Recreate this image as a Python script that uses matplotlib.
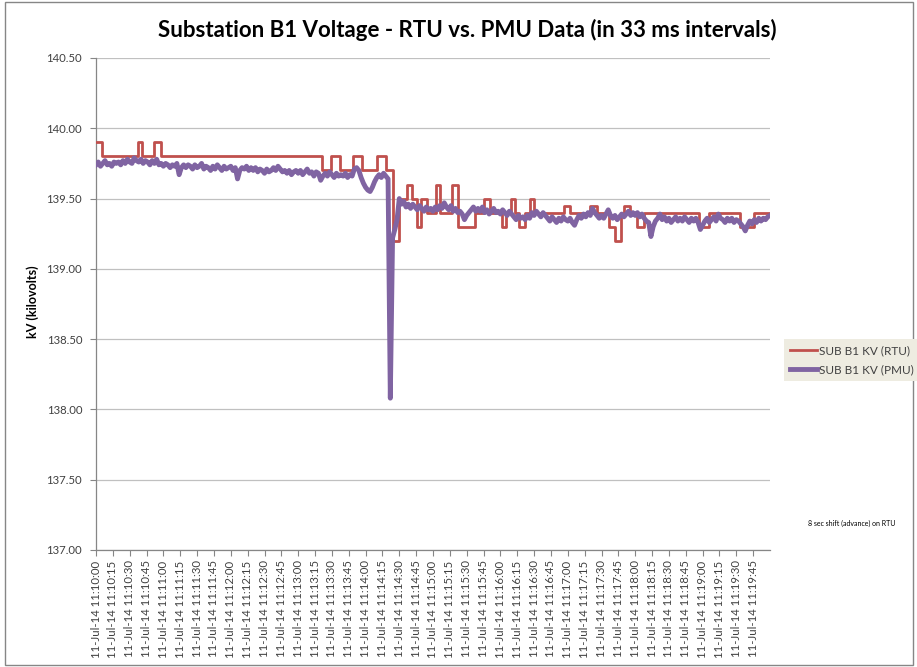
import matplotlib
matplotlib.use('Agg')
import matplotlib.pyplot as plt
from matplotlib.patches import Rectangle
import numpy as np

plt.rcParams['font.family'] = ['Lato', 'DejaVu Sans']

# RTU: step changes, seconds after 11:10:00 -> kV
rtu_times = [0, 5, 37, 41, 52, 58, 201, 209, 217, 229, 237, 250, 258, 264,
             270, 277, 281, 286, 289, 295, 303, 306, 317, 322, 337, 345, 351,
             361, 365, 369, 373, 377, 382, 386, 390, 417, 422, 440, 446, 457,
             462, 467, 470, 475, 482, 488, 537, 546, 573, 586]
rtu_kv = [139.9, 139.8, 139.9, 139.8, 139.9, 139.8, 139.7, 139.8, 139.7, 139.8,
          139.7, 139.8, 139.7, 139.2, 139.5, 139.6, 139.5, 139.3, 139.5, 139.4,
          139.6, 139.4, 139.6, 139.3, 139.4, 139.5, 139.4, 139.3, 139.4, 139.5,
          139.4, 139.3, 139.4, 139.5, 139.4, 139.45, 139.4, 139.45, 139.4, 139.3,
          139.2, 139.4, 139.45, 139.4, 139.3, 139.4, 139.3, 139.4, 139.3, 139.4]

# PMU: every 2 s
pmu_step = 2
pmu_kv = [
    139.74, 139.76, 139.73, 139.75, 139.77, 139.74, 139.75, 139.73, 139.76, 139.75,
    139.76, 139.74, 139.77, 139.75, 139.78, 139.76, 139.75, 139.79, 139.77, 139.76,
    139.78, 139.75, 139.77, 139.76, 139.74, 139.77, 139.75, 139.78, 139.74, 139.75,
    139.73, 139.75, 139.74, 139.72, 139.74, 139.73, 139.75, 139.67, 139.72, 139.74,
    139.72, 139.74, 139.73, 139.71, 139.74, 139.72, 139.73, 139.75, 139.71, 139.73,
    139.72, 139.70, 139.73, 139.71, 139.74, 139.72, 139.70, 139.73, 139.71, 139.72,
    139.73, 139.70, 139.72, 139.64, 139.70, 139.72, 139.71, 139.73, 139.70, 139.72,
    139.70, 139.72, 139.69, 139.71, 139.70, 139.68, 139.71, 139.69, 139.70, 139.72,
    139.70, 139.73, 139.71, 139.69, 139.70, 139.68, 139.70, 139.67, 139.69, 139.70,
    139.68, 139.70, 139.67, 139.69, 139.71, 139.68, 139.69, 139.66, 139.69, 139.68,
    139.63, 139.66, 139.68, 139.66, 139.69, 139.67, 139.65, 139.68, 139.66, 139.67,
    139.66, 139.68, 139.65, 139.67, 139.66, 139.71, 139.72, 139.70, 139.65, 139.61,
    139.58, 139.56, 139.55, 139.58, 139.62, 139.65, 139.67, 139.65, 139.68, 139.66,
    139.64, 138.08, 139.22, 139.28, 139.35, 139.50, 139.46, 139.48, 139.44, 139.46,
    139.43, 139.46, 139.44, 139.42, 139.45, 139.43, 139.41, 139.44, 139.42, 139.43,
    139.41, 139.44, 139.42, 139.45, 139.43, 139.47, 139.44, 139.42, 139.45, 139.41,
    139.43, 139.40, 139.41, 139.39, 139.35, 139.38, 139.40, 139.42, 139.44, 139.41,
    139.43, 139.41, 139.44, 139.40, 139.42, 139.39, 139.41, 139.43, 139.40, 139.41,
    139.39, 139.42, 139.40, 139.38, 139.41, 139.39, 139.37, 139.35, 139.38, 139.36,
    139.37, 139.35, 139.38, 139.36, 139.40, 139.38, 139.41, 139.39, 139.37, 139.40,
    139.38, 139.36, 139.34, 139.37, 139.35, 139.33, 139.36, 139.34, 139.37, 139.35,
    139.34, 139.36, 139.33, 139.31, 139.35, 139.38, 139.36, 139.39, 139.37, 139.40,
    139.38, 139.43, 139.40, 139.38, 139.36, 139.38, 139.36, 139.39, 139.42, 139.38,
    139.36, 139.38, 139.35, 139.37, 139.39, 139.37, 139.39, 139.41, 139.38, 139.40,
    139.38, 139.40, 139.37, 139.39, 139.36, 139.34, 139.33, 139.23, 139.30, 139.34,
    139.36, 139.39, 139.35, 139.37, 139.34, 139.36, 139.33, 139.35, 139.37, 139.34,
    139.36, 139.34, 139.37, 139.35, 139.33, 139.36, 139.34, 139.36, 139.33, 139.28,
    139.31, 139.34, 139.36, 139.33, 139.35, 139.37, 139.34, 139.39, 139.36, 139.35,
    139.33, 139.36, 139.34, 139.36, 139.33, 139.35, 139.34, 139.32, 139.30, 139.27,
    139.31, 139.34, 139.32, 139.35, 139.33, 139.36, 139.34, 139.36, 139.35, 139.37,
    139.38]

tick_seconds = list(range(0, 600, 15))
tick_labels = ['11-Jul-14 11:%02d:%02d' % (10 + s // 60, s % 60) for s in tick_seconds]
y_ticks = [137.0, 137.5, 138.0, 138.5, 139.0, 139.5, 140.0, 140.5]

W, H = 917, 667
fig = plt.figure(figsize=(W / 100, H / 100), dpi=100)
ax = fig.add_axes([96 / W, 1 - 550 / H, (770 - 96) / W, (550 - 58) / H])

ax.step(rtu_times + [600], rtu_kv + [rtu_kv[-1]], where='post',
        color='#C0504D', lw=2, label='SUB B1 KV (RTU)', zorder=3)
pmu_times = np.arange(len(pmu_kv)) * pmu_step
ax.plot(pmu_times, pmu_kv, color='#8064A2', lw=3.5,
        label='SUB B1 KV (PMU)', zorder=4)

ax.set_xlim(0, 600)
ax.set_ylim(137, 140.5)
ax.set_yticks(y_ticks)
ax.set_yticklabels(['%.2f' % v for v in y_ticks])
ax.set_xticks(tick_seconds)
ax.set_xticklabels(tick_labels, rotation=90, ha='center', va='top')
ax.tick_params(axis='both', colors='#868686', labelcolor='#404040',
               labelsize=8.2, length=4, width=0.8)
ax.tick_params(axis='y', pad=6)
ax.grid(axis='y', color='#C0C0C0', lw=0.9)
ax.set_axisbelow(True)
for s in ('top', 'right'):
    ax.spines[s].set_visible(False)
for s in ('left', 'bottom'):
    ax.spines[s].set_color('#868686')
    ax.spines[s].set_linewidth(0.9)

fig.text(467 / W, 1 - 30 / H,
         'Substation B1 Voltage - RTU vs. PMU Data (in 33 ms intervals)',
         ha='center', va='center', fontsize=16, fontweight='bold', color='#000000')
fig.text(33 / W, 1 - 302 / H, 'kV (kilovolts)', rotation=90, ha='center',
         va='center', fontsize=9, fontweight='bold')
fig.text(808 / W, 1 - 523 / H, '8 sec shift (advance) on RTU',
         ha='left', va='center', fontsize=5.0, color='#000000')

leg = fig.legend(loc='upper left', bbox_to_anchor=(778 / W, 1 - 333 / H),
                 fontsize=8.5, frameon=True, fancybox=False, framealpha=1,
                 facecolor='#EEECE1', edgecolor='none', handlelength=2.3,
                 handletextpad=0.2, borderpad=0.5, labelspacing=0.7)
for t in leg.get_texts():
    t.set_color('#404040')

fig.patches.append(Rectangle((5 / W, 2 / H), 908 / W, 663 / H,
                             transform=fig.transFigure, fill=False,
                             edgecolor='#868686', lw=1))

fig.savefig('out.png', dpi=100)
